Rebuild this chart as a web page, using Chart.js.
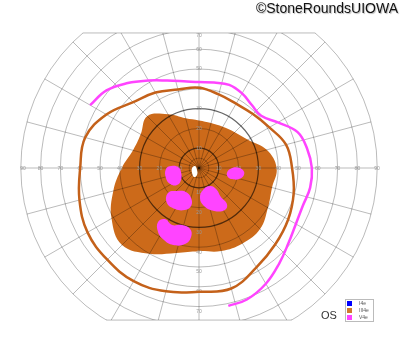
<!DOCTYPE html>
<html>
<head>
<meta charset="utf-8">
<script src="https://cdn.jsdelivr.net/npm/chart.js@4.4.1/dist/chart.umd.min.js"></script>
<style>
body{margin:0;background:#fff;}
#wrap{position:relative;width:400px;height:352px;overflow:hidden;}
canvas{position:absolute;left:0;top:0;}
#copy{position:absolute;right:2px;top:0px;font:14px "Liberation Sans",Arial,sans-serif;color:#111;text-shadow:1px 1px 1px #bbb;}
#os{position:absolute;left:321px;top:309px;font:11px "Liberation Sans",Arial,sans-serif;color:#333;}
#legend{position:absolute;left:345px;top:299px;width:27px;height:21px;border:1px solid #bbb;background:#fff;font:5px "Liberation Sans",Arial,sans-serif;color:#555;}
#legend div{height:7px;line-height:7px;position:relative;}
#legend span{position:absolute;left:1px;top:1px;width:5px;height:5px;}
#legend b{position:absolute;left:13px;top:0;font-weight:normal;}
</style>
</head>
<body>
<div id="wrap">
<canvas id="field" width="400" height="352"></canvas>
<div id="copy">©StoneRoundsUIOWA</div>
<div id="os">OS</div>
<div id="legend"></div>
</div>
<script>
// meridians every 15 deg, eccentricity in degrees
var meridians = [0,15,30,45,60,75,90,105,120,135,150,165,180,195,210,225,240,255,270,285,300,315,330,345];
var iii4eOuter = [47,45.5,41,38.5,37.5,38.5,40.5,41,44,47,54,59.5,60,62.5,65,65.5,66,64.5,62.5,63,58,54.5,52,49.5];
var iii4eScotoma = [39.2,35.4,28.5,25.5,24,23.5,24,26,31.3,37,34,34.5,39,44.8,51,55,50,44.4,42,43.4,44,43.6,40.2,38.2];

// V4e isopter, open line
var v4eAngles = [150,140,130,120,110,100,90,80,70,60,50,40,30,20,10,0,-10,-20,-30,-40,-50,-60,-70,-78];
var v4eOuter = [63.5,61,56,51,47,44.5,43.4,43.8,44.7,43.5,41.5,41,46,53,55.5,57,57,55.8,56.5,59,63,67.5,70.7,71.2];

// V4e scotomas inside the III4e scotoma, [x, y] in degrees
var v4eIslandA = [[-16.7,-0.5],[-14.1,1.0],[-10.6,0.5],[-9.1,-2.0],[-9.1,-6.1],[-11.1,-8.6],[-14.6,-8.1],[-16.7,-5.1]];
var v4eIslandB = [[14.1,-2.5],[15.7,-0.5],[19.2,0.3],[22.2,-1.0],[22.7,-3.5],[20.2,-5.6],[16.7,-5.6],[14.6,-4.5]];
var v4eIslandC = [[-15.7,-12.6],[-11.1,-11.6],[-6.6,-12.1],[-4.0,-15.2],[-4.0,-19.2],[-7.1,-21.2],[-12.1,-20.7],[-16.2,-17.7]];
var v4eIslandD = [[2.0,-11.1],[5.6,-9.1],[8.6,-10.6],[11.1,-14.6],[14.1,-18.2],[13.1,-21.2],[7.6,-21.7],[2.5,-19.2],[0.5,-15.2]];
var v4eIslandE = [[-20.7,-27.3],[-17.2,-25.8],[-13.6,-28.8],[-8.6,-28.8],[-4.5,-30.8],[-4.0,-34.8],[-7.1,-38.4],[-13.1,-38.9],[-17.7,-36.4],[-20.7,-32.3]];
var fixationSpot = [[-3.5,0],[-2.0,1.0],[-1.0,-1.0],[-1.0,-3.5],[-2.5,-4.5],[-3.5,-2.5]];

var ringEcc = [5,10,20,30,40,50,60,70,80,90];
var darkRings = [10,30];
var tickEcc = [10,20,30,40,50,60,70,80,90];
var fieldTop = 68.2, fieldBottom = 76.8;

var legendNames = ['I4e','III4e','V4e'];
var legendColors = ['#0000ff','#d07a2c','#ff44ff'];

var ORANGE = '#cc6a1a';
var ORANGE_LINE = '#c4611a';
var PINK = '#ff44ff';

function polar(angles, ecc){
    var out = [];
    for(var i = 0; i < angles.length; i++){
        var a = angles[i] * Math.PI / 180;
        out.push({x: ecc[i] * Math.cos(a), y: ecc[i] * Math.sin(a)});
    }
    return out;
}
function pts(list){
    return list.map(function(p){ return {x: p[0], y: p[1]}; });
}
function blob(list, color){
    return {data: pts(list), backgroundColor: color, borderWidth: 0, fill: 'shape', tension: 0.45, closed: true, pointRadius: 0};
}

var datasets = [
    {label: 'V4e', data: polar(v4eAngles, v4eOuter), borderColor: PINK, borderWidth: 2.5, fill: false, tension: 0.4, pointRadius: 0},
    {label: 'III4e', data: polar(meridians, iii4eOuter), borderColor: ORANGE_LINE, borderWidth: 2.5, fill: false, tension: 0.4, closed: true, pointRadius: 0},
    blob(fixationSpot, '#ffffff'),
    blob(v4eIslandA, PINK),
    blob(v4eIslandB, PINK),
    blob(v4eIslandC, PINK),
    blob(v4eIslandD, PINK),
    blob(v4eIslandE, PINK),
    {label: 'III4e scotoma', data: polar(meridians, iii4eScotoma), backgroundColor: ORANGE, borderWidth: 0, fill: 'shape', tension: 0.4, closed: true, pointRadius: 0}
];
var fillIndex = datasets.length - 1;

// make closed curves smooth all the way round
var loopPlugin = {
    id: 'closedLoops',
    afterDatasetUpdate: function(chart, args){
        var ds = chart.data.datasets[args.index];
        var line = args.meta.dataset;
        if(ds.closed && line){
            line._loop = true;
            line._fullLoop = true;
            delete line._segments;
            delete line._path;
            line._pointsUpdated = false;
        }
    }
};

function drawGrid(chart){
    var ctx = chart.ctx, xs = chart.scales.x, ys = chart.scales.y;
    var cx = xs.getPixelForValue(0), cy = ys.getPixelForValue(0);
    var ppd = (xs.getPixelForValue(90) - cx) / 90;
    var topY = ys.getPixelForValue(fieldTop), botY = ys.getPixelForValue(-fieldBottom);
    var R = 90 * ppd;
    ctx.save();
    ctx.beginPath();
    ctx.rect(0, topY, chart.width, botY - topY);
    ctx.clip();
    ctx.lineWidth = 1;
    ringEcc.forEach(function(e){
        ctx.beginPath();
        ctx.arc(cx, cy, e * ppd, 0, Math.PI * 2);
        var dark = darkRings.indexOf(e) >= 0;
        ctx.strokeStyle = dark ? 'rgba(0,0,0,0.6)' : 'rgba(0,0,0,0.27)';
        ctx.lineWidth = dark ? 1.2 : 1;
        ctx.stroke();
    });
    ctx.strokeStyle = 'rgba(0,0,0,0.27)';
    ctx.lineWidth = 1;
    ctx.beginPath();
    for(var a = 0; a < 360; a += 15){
        var t = a * Math.PI / 180;
        ctx.moveTo(cx, cy);
        ctx.lineTo(cx + R * Math.cos(t), cy - R * Math.sin(t));
    }
    ctx.stroke();
    ctx.restore();

    // flat top and bottom edges of the field
    ctx.save();
    ctx.strokeStyle = 'rgba(0,0,0,0.27)';
    ctx.lineWidth = 1;
    [topY, botY].forEach(function(y){
        var h = Math.sqrt(R * R - (cy - y) * (cy - y));
        ctx.beginPath();
        ctx.moveTo(cx - h, y);
        ctx.lineTo(cx + h, y);
        ctx.stroke();
    });

    // tick labels
    ctx.font = '5px "Liberation Sans", Arial, sans-serif';
    ctx.fillStyle = '#999';
    ctx.textAlign = 'center';
    ctx.textBaseline = 'middle';
    tickEcc.forEach(function(e){
        var d = e * ppd;
        ctx.fillText(String(e), Math.max(cx - d, 23), cy + 0.5);
        ctx.fillText(String(e), Math.min(cx + d, 377), cy + 0.5);
        if(cy - d > topY) ctx.fillText(String(e), cx, Math.max(cy - d, topY + 3));
        else if(cy - d > topY - 10) ctx.fillText(String(e), cx, topY + 3);
        if(cy + d + 5 < botY) ctx.fillText(String(e), cx, cy + d + 5);
    });
    ctx.restore();
}

var gridPlugin = {
    id: 'perimetryGrid',
    afterDatasetDraw: function(chart, args){
        if(args.index === fillIndex) drawGrid(chart);
    }
};

var ctx = document.getElementById('field').getContext('2d');
var chart = new Chart(ctx, {
    type: 'line',
    data: {datasets: datasets},
    options: {
        responsive: false,
        animation: false,
        devicePixelRatio: 1,
        layout: {padding: 0},
        plugins: {legend: {display: false}, tooltip: {enabled: false}},
        scales: {
            x: {type: 'linear', min: -199 / 1.98, max: 201 / 1.98, display: false},
            y: {type: 'linear', min: -184 / 1.98, max: 168 / 1.98, display: false}
        }
    },
    plugins: [loopPlugin, gridPlugin]
});

// legend box
var lg = document.getElementById('legend');
for(var i = 0; i < legendNames.length; i++){
    var row = document.createElement('div');
    row.innerHTML = '<span style="background:' + legendColors[i] + '"></span><b>' + legendNames[i] + '</b>';
    lg.appendChild(row);
}
</script>
</body>
</html>
